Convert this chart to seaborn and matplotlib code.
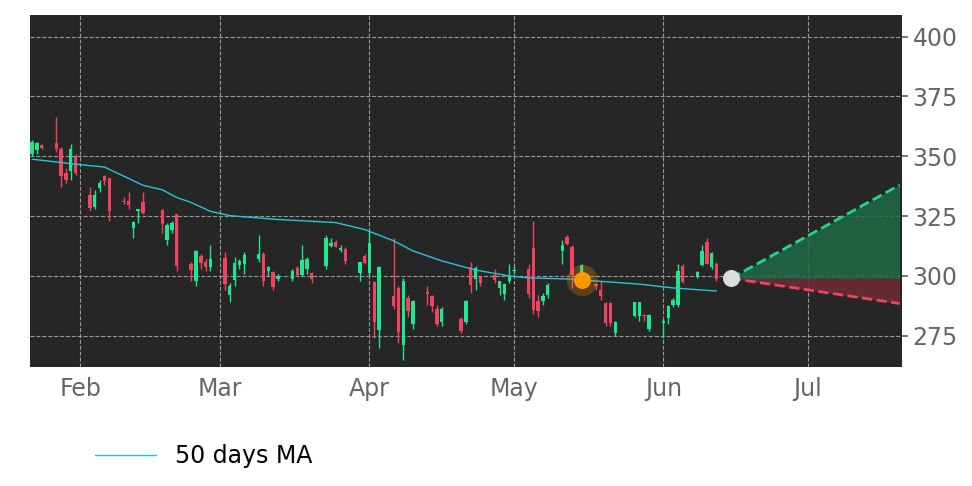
import matplotlib
matplotlib.use("Agg")
import matplotlib.pyplot as plt
import matplotlib.dates as mdates
import seaborn as sns
import pandas as pd
import numpy as np

dates = ["2020-01-22","2020-01-23","2020-01-24","2020-01-27","2020-01-28","2020-01-29","2020-01-30","2020-01-31",
"2020-02-03","2020-02-04","2020-02-05","2020-02-06","2020-02-07","2020-02-10","2020-02-11","2020-02-12","2020-02-13","2020-02-14",
"2020-02-18","2020-02-19","2020-02-20","2020-02-21","2020-02-24","2020-02-25","2020-02-26","2020-02-27","2020-02-28",
"2020-03-02","2020-03-03","2020-03-04","2020-03-05","2020-03-06","2020-03-09","2020-03-10","2020-03-11","2020-03-12","2020-03-13",
"2020-03-16","2020-03-17","2020-03-18","2020-03-19","2020-03-20","2020-03-23","2020-03-24","2020-03-25","2020-03-26","2020-03-27",
"2020-03-30","2020-03-31","2020-04-01","2020-04-02","2020-04-03","2020-04-06","2020-04-07","2020-04-08","2020-04-09","2020-04-10",
"2020-04-13","2020-04-14","2020-04-15","2020-04-16","2020-04-20","2020-04-21","2020-04-22","2020-04-23","2020-04-24",
"2020-04-27","2020-04-28","2020-04-29","2020-04-30","2020-05-01","2020-05-04","2020-05-05","2020-05-06","2020-05-07","2020-05-08",
"2020-05-11","2020-05-12","2020-05-13","2020-05-15","2020-05-18","2020-05-19","2020-05-20","2020-05-21","2020-05-22",
"2020-05-26","2020-05-27","2020-05-28","2020-05-29","2020-06-01","2020-06-02","2020-06-03","2020-06-04","2020-06-05",
"2020-06-08","2020-06-09","2020-06-10","2020-06-11","2020-06-12"]
opens = [351,352.6,354.7,355.5,353,343,344,349.7,334,329,336.6,341.7,340.8,331.5,331.5,320.2,327,330.7,
327.4,315,319.4,325.7,305,298,308.4,306,303.8,307.6,292,298.3,304.6,305,307,309.2,302,301.7,298.7,
298.7,303.4,300.4,303,301.3,304.2,312.6,314.3,310.9,311.4,301.3,308.4,301.3,297.5,277.3,291.6,295,271,290.7,279.8,
293.3,291.6,286.1,280.6,281.9,280.6,303.8,298.7,299.6,300.4,295,292.4,298,302,303,311.8,289.5,289.5,292,
310.5,316.4,312.2,301.3,296.6,294,288.6,288.6,276,283.2,283.2,283.6,278,280.5,282.3,287.8,287.8,304.2,
299.6,304.6,314.3,303.8,305]
highs = [357,356,355,366.5,354,345,355,351,337,336,340,342,341,333,335,323,328,335,
328,322,323,326,306,311,309,307,313,310,297,308,307,310,317,310,304,302,301,
303,304,313,308,301.5,317,316,315,313,312,306,309,319,298,304,316,296,299,292,290,
296,292,288,287,283,290,306,304,300,303,298,297,305,304,305,323,292,293,297,
315,317,313,305,297,298,289,289,281,289,289,284,284,282,288,291,305,305,
302,313,316,310,306]
lows = [350,351,353,352,337,339,340,342,327,328,335,338,323,330,328,316,322,326,
318,313,318,302,298,296,303,302,302,294,289,296,303,301,306,296,300,294,298,
298,300,300,301,297,303,312,312,310,305,298,305,300,274,270,286,272,265,283,278,
288,285,279,279,276,280,293,294,296,297,292,290,297,301,291,284,283,288,291,
305,313,295,297,294,290,279,279,275,283,281,281,277,274,280,287,287,297,
299,304,305,303,298]
closes = [356,355.5,353.5,353,341.7,340,353,343,328.6,334,338.7,339.6,327,331,329.5,322.7,327.8,326.5,
321.9,321.5,322.3,304.2,302.5,310.5,305.5,303.8,307,296.6,295.8,305.5,306.3,308.8,309.2,298,303.8,295.4,300,
302,300.4,306.7,307,298.7,316,313.9,312.2,311.8,306.3,305.9,305.5,313.9,280.6,303.8,287.4,276.4,297.9,285.3,289.5,
292.4,287.4,279.8,286.1,276.9,289.5,296.2,303.4,297,298.3,297.9,296.6,300,302.2,292.4,285.7,285.3,291.6,296.2,
313,313.5,300.4,304.6,296,291.6,280.2,280.2,280.6,289,289,283.3,283.6,281,287.4,290,302,297.5,
301.7,310.5,305,309.7,298.7]

ma_dates = ["2020-01-22","2020-01-31","2020-02-06","2020-02-14","2020-02-18","2020-02-21","2020-02-24","2020-02-28",
"2020-03-03","2020-03-13","2020-03-25","2020-03-31","2020-04-06","2020-04-10","2020-04-16","2020-04-23","2020-04-30",
"2020-05-04","2020-05-13","2020-05-18","2020-05-27","2020-06-03","2020-06-12"]
ma_vals = [348.8,346.7,345.5,337.9,336,332.8,330.7,327,325.2,323.6,322.3,319.4,314.7,310.5,306.3,302.5,300,
299.2,298.7,297.9,296.6,295,293.7]

fc_dates = ["2020-06-15","2020-07-20"]
fc_upper = [299,338]
fc_lower = [299,288.5]
mark_date = "2020-05-15"; mark_val = 298.5
last_date = "2020-06-15"; last_val = 299

up_c = "#1ee88f"; dn_c = "#f0435d"; ma_c = "#26c6da"

sns.set_theme(style="dark")
fig = plt.figure(figsize=(9.72, 4.86), dpi=100, facecolor="white")
ax = fig.add_axes([0.031, 0.245, 0.897, 0.724])
ax.set_facecolor("#262626")

df = pd.DataFrame({"date": pd.to_datetime(dates), "o": opens, "h": highs, "l": lows, "c": closes})
x = mdates.date2num(df["date"])
cols = [up_c if c >= o else dn_c for o, c in zip(df.o, df.c)]
ax.vlines(x, df.l, df.h, colors=cols, linewidth=1, zorder=3)
bottoms = np.minimum(df.o, df.c)
heights = np.maximum(np.abs(df.c - df.o), 0.4)
ax.bar(x, heights, bottom=bottoms, width=0.7, color=cols, zorder=4, linewidth=0)

ma_df = pd.DataFrame({"date": pd.to_datetime(ma_dates), "ma": ma_vals})
sns.lineplot(data=ma_df, x="date", y="ma", color=ma_c, linewidth=1, ax=ax, label="50 days MA", zorder=5)

fx = pd.to_datetime(fc_dates)
ax.fill_between(fx, [last_val]*2, fc_upper, color="#1f6b48", alpha=0.85, linewidth=0, zorder=2)
ax.fill_between(fx, fc_lower, [last_val]*2, color="#6e2b33", alpha=0.85, linewidth=0, zorder=2)
ax.plot(fx, fc_upper, "--", color="#1fd68a", linewidth=2, zorder=6)
ax.plot(fx, fc_lower, "--", color="#f0435d", linewidth=2, zorder=6)

ax.scatter(pd.to_datetime([mark_date]), [mark_val], s=500, color="#ff9800", alpha=0.25, zorder=6, linewidth=0)
ax.scatter(pd.to_datetime([mark_date]), [mark_val], s=150, color="#ff9800", zorder=7, linewidth=0)
ax.scatter(pd.to_datetime([last_date]), [last_val], s=150, color="#dddddd", zorder=7, linewidth=0)

ax.set_xlim(pd.Timestamp("2020-01-21 14:00"), pd.Timestamp("2020-07-20 12:00"))
ax.set_ylim(262, 409)
ax.set_yticks([275, 300, 325, 350, 375, 400])
ax.yaxis.tick_right()
ax.xaxis.set_major_locator(mdates.MonthLocator())
ax.xaxis.set_major_formatter(mdates.DateFormatter("%b"))
ax.grid(True, color="#999999", linestyle="--", linewidth=0.8)
ax.tick_params(axis="both", labelsize=17, colors="#666666", length=4)
ax.set_xlabel(""); ax.set_ylabel("")
for s in ax.spines.values():
    s.set_visible(False)
leg = ax.legend(loc="upper left", bbox_to_anchor=(0.05, -0.16), frameon=False, fontsize=17, handlelength=2.6)
for t in leg.get_texts():
    t.set_color("black")
fig.savefig("out.png", dpi=100, facecolor="white")
